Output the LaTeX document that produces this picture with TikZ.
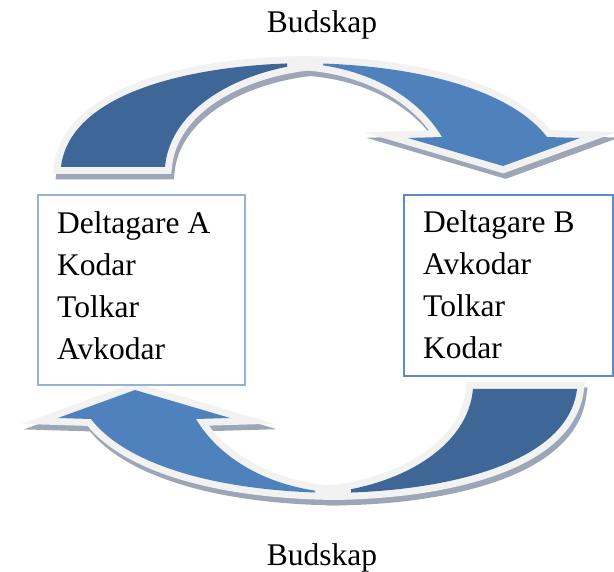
\documentclass[tikz,border=0pt]{standalone}
\usepackage{fontspec}
\setmainfont{Liberation Serif}
\definecolor{darkblue}{HTML}{3E6797}
\definecolor{lightblue}{HTML}{4F81BD}
\definecolor{rimgray}{HTML}{F2F2F2}
\definecolor{shadowgray}{HTML}{9CA6B6}
\definecolor{boxaline}{HTML}{95B3D7}
\definecolor{boxbline}{HTML}{5A8BD0}
% one curved arrow: rims first, then the two fills kept apart at the joint
\newcommand\drawcyclearrow{%
  \path[rim, darkband];
  \path[rim, lightband];
  \begin{scope}
    \clip (0,0) rectangle (287,300);
    \fill[darkblue, darkband];
  \end{scope}
  \begin{scope}
    \clip (323,0) rectangle (620,300);
    \fill[lightblue, lightband];
  \end{scope}}
\begin{document}
\begin{tikzpicture}[x=1pt,y=-1pt,
  % tapered tail of the upper arrow
  darkband/.style={insert path={(61,167) .. controls (70,90) and (200,63) .. (312,63)
      .. controls (235,71) and (170,110) .. (165,167) -- cycle}},
  % head of the upper arrow
  lightband/.style={insert path={(300,63) .. controls (430,64) and (515,95) .. (547,137)
      -- (580,138) -- (503,166) -- (408,138) -- (442,137)
      .. controls (420,100) and (372,67) .. (300,63) -- cycle}},
  rim/.style={draw=rimgray, line width=14pt, line join=miter, miter limit=10},
  dropshadow/.style={fill=shadowgray, draw=shadowgray, line width=14pt, line join=miter, miter limit=10},
  textbox/.style={draw, line width=1.6pt, fill=white, inner sep=0pt, anchor=north west},
  boxtext/.style={anchor=base west, inner sep=0pt, font=\fontsize{31.5}{42}\selectfont},
  caption/.style={anchor=base, inner sep=0pt, font=\fontsize{31.5}{42}\selectfont}
]
\useasboundingbox (0,0) rectangle (614,572);

% shadows of both arrows
\begin{scope}[shift={(2.5,5.5)}]
  \path[dropshadow, darkband];
  \path[dropshadow, lightband];
  \begin{scope}[rotate around={180:(319,278)}]
    \path[dropshadow, darkband];
    \path[dropshadow, lightband];
  \end{scope}
\end{scope}

% upper arrow
\drawcyclearrow

% lower arrow, the upper one turned half a turn
\begin{scope}[rotate around={180:(319,278)}]
  \drawcyclearrow
\end{scope}

% participants
\node[textbox, draw=boxaline, minimum width=207pt, minimum height=190pt] (boxA) at (37,194) {};
\node[textbox, draw=boxbline, minimum width=209pt, minimum height=181pt] (boxB) at (403,194) {};
\node[boxtext] (textA) at (57,234)
  {\begin{tabular}[t]{@{}l@{}}Deltagare A\\Kodar\\Tolkar\\Avkodar\end{tabular}};
\node[boxtext] (textB) at (423,233)
  {\begin{tabular}[t]{@{}l@{}}Deltagare B\\Avkodar\\Tolkar\\Kodar\end{tabular}};

% message labels
\node[caption] (msgTop) at (322,33) {Budskap};
\node[caption] (msgBottom) at (322,565) {Budskap};
\end{tikzpicture}
\end{document}
